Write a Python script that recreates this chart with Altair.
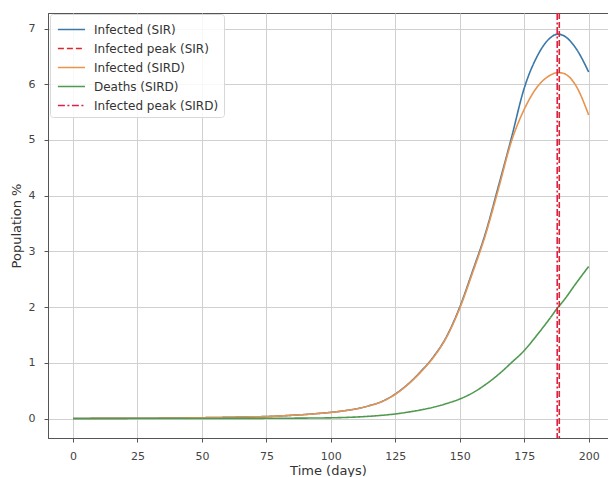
import altair as alt
import pandas as pd

# ---- data ----
days = [0, 5, 10, 15, 20, 25, 30, 35, 40, 45, 50, 55, 60, 65, 70, 75, 80, 85, 90, 95,
        100, 105, 110, 115, 120, 125, 130, 135, 140, 145, 150, 155, 160, 165, 170, 175,
        180, 185, 188, 190, 195, 200]

infected_sir = [0.001, 0.0013, 0.0017, 0.0022, 0.003, 0.004, 0.005, 0.0065, 0.0085, 0.011,
                0.014, 0.017, 0.021, 0.026, 0.03, 0.035, 0.045, 0.058, 0.072, 0.09,
                0.11, 0.138, 0.175, 0.232, 0.31, 0.44, 0.62, 0.85, 1.12, 1.48,
                2.0, 2.65, 3.33, 4.17, 5.03, 5.93, 6.5, 6.83, 6.9, 6.88, 6.65, 6.22]

infected_sird = [0.001, 0.0013, 0.0017, 0.0022, 0.003, 0.004, 0.005, 0.0065, 0.0085, 0.011,
                 0.014, 0.017, 0.021, 0.026, 0.03, 0.035, 0.045, 0.058, 0.071, 0.089,
                 0.109, 0.137, 0.173, 0.23, 0.307, 0.435, 0.615, 0.84, 1.11, 1.47,
                 1.98, 2.62, 3.3, 4.12, 4.97, 5.55, 5.95, 6.16, 6.21, 6.2, 5.98, 5.45]

deaths_sird = [0, 0, 0, 0.0001, 0.0001, 0.0002, 0.0003, 0.0004, 0.0005, 0.0007,
               0.0009, 0.0012, 0.0016, 0.002, 0.0026, 0.0034, 0.0044, 0.0057, 0.0073, 0.0094,
               0.012, 0.018, 0.027, 0.04, 0.058, 0.082, 0.115, 0.155, 0.205, 0.27,
               0.35, 0.46, 0.61, 0.79, 1.0, 1.22, 1.5, 1.8, 1.99, 2.1, 2.42, 2.73]

peak_series = ["Infected peak (SIR)", "Infected peak (SIRD)"]
peak_days = [188.6, 187.8]

series_names = ["Infected (SIR)", "Infected peak (SIR)", "Infected (SIRD)",
                "Deaths (SIRD)", "Infected peak (SIRD)"]
series_colors = ["#3b78a8", "#e0242c", "#e8944f", "#4f9a4f", "#dc1f4b"]
series_dashes = [[1, 0], [6, 3], [1, 0], [1, 0], [7, 2.5, 2, 2.5]]
series_widths = [1.6, 1.6, 1.6, 2.4, 2.6]

x_ticks = [0, 25, 50, 75, 100, 125, 150, 175, 200]
y_ticks = [0, 1, 2, 3, 4, 5, 6, 7]

# ---- tables ----
lines_df = pd.DataFrame({
    "day": days * 3,
    "value": infected_sir + infected_sird + deaths_sird,
    "series": ["Infected (SIR)"] * len(days) + ["Infected (SIRD)"] * len(days)
              + ["Deaths (SIRD)"] * len(days),
})
peaks_df = pd.DataFrame({"day": peak_days, "series": peak_series})

legend = alt.Legend(
    title=None, orient="none", legendX=2, legendY=1,
    symbolType="M-0.8,0H2.05", symbolSize=361, labelFontSize=12, labelFont="DejaVu Sans",
    labelColor="#333333", fillColor="rgba(255,255,255,0.85)", strokeColor="#d8d8d8",
    cornerRadius=3, padding=5, rowPadding=2, labelOffset=18,
)

color = alt.Color("series:N", scale=alt.Scale(domain=series_names, range=series_colors),
                  legend=legend)
dash = alt.StrokeDash("series:N", scale=alt.Scale(domain=series_names, range=series_dashes),
                      legend=legend)
width = alt.StrokeWidth("series:N", scale=alt.Scale(domain=series_names, range=series_widths),
                        legend=legend)

x_enc = alt.X("day:Q", scale=alt.Scale(domain=[-9.7, 207.5], nice=False, zero=False),
              axis=alt.Axis(values=x_ticks, title="Time (days)", labelPadding=8,
                            titlePadding=3))

lines = alt.Chart(lines_df).mark_line(interpolate="monotone").encode(
    x=x_enc,
    y=alt.Y("value:Q", scale=alt.Scale(domain=[-0.35, 7.28], nice=False, zero=False),
            axis=alt.Axis(values=y_ticks, title="Population %", labelPadding=9,
                          titlePadding=5)),
    color=color, strokeDash=dash, strokeWidth=width,
)

peaks = alt.Chart(peaks_df).mark_rule().encode(
    x=x_enc, color=color, strokeDash=dash, strokeWidth=width,
)

chart = alt.layer(lines, peaks).properties(
    width=560, height=425,
    autosize=alt.AutoSizeParams(type="none"),
    padding={"left": 40, "top": 5, "right": 0, "bottom": 48},
    background="white",
).configure_view(
    stroke="#555555", strokeWidth=1
).configure_axis(
    grid=True, gridColor="#d0d0d0", gridWidth=1,
    domainColor="#555555", tickColor="#555555", tickSize=4,
    labelColor="#444444", labelFontSize=11, labelFont="DejaVu Sans",
    titleFont="DejaVu Sans", titleFontSize=13, titleFontWeight="normal",
    titleColor="#333333",
)

chart.save("out.html", embed_options={"renderer": "svg", "actions": False})
